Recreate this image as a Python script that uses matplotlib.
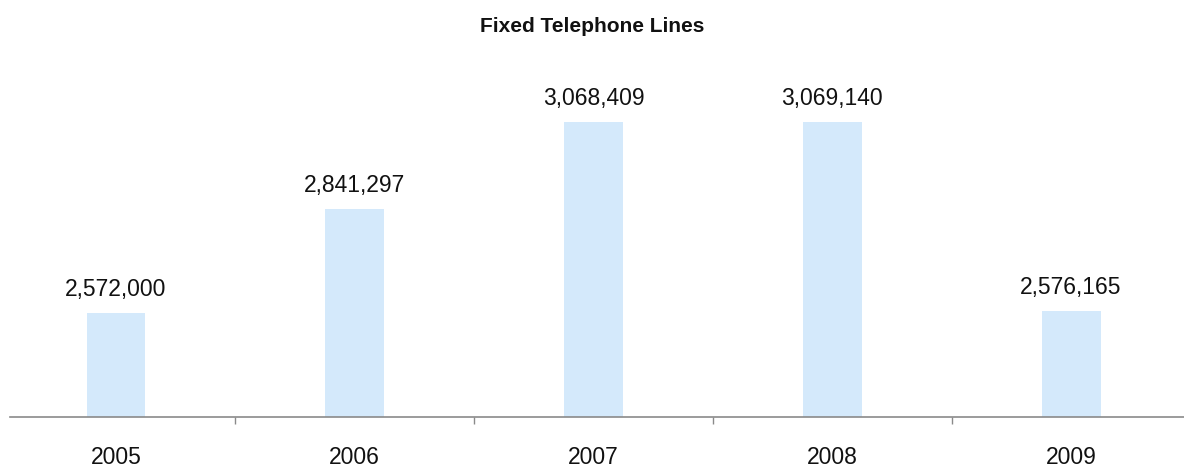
import matplotlib
matplotlib.use("Agg")
import matplotlib.pyplot as plt
from matplotlib.ticker import FixedLocator

years = ["2005", "2006", "2007", "2008", "2009"]
lines = [2572000, 2841297, 3068409, 3069140, 2576165]

plt.rcParams['font.family'] = ['Liberation Sans', 'DejaVu Sans']

fig = plt.figure(figsize=(11.84, 4.72), dpi=100)
# axes from x=10px to 1184px, y from 100px to 417px (top-down)
ax = fig.add_axes([10 / 1184, (472 - 417) / 472, 1174 / 1184, 317 / 472])

x = list(range(len(years)))
ax.bar(x, lines, width=0.247, color="#d4e9fb", zorder=2)

ax.set_xlim(-0.444, 4.473)
ax.set_ylim(2300000, 3126800)

for xi, v in zip(x, lines):
    ax.annotate(f"{v:,}", (xi, v), xytext=(0, 17), textcoords="offset points",
                ha="center", va="center", fontsize=16.5, color="#111111")

for s in ["top", "right", "left"]:
    ax.spines[s].set_visible(False)
ax.spines["bottom"].set_color("#8a8a8a")
ax.spines["bottom"].set_linewidth(1.2)

ax.set_yticks([])
ax.set_xticks(x)
ax.set_xticklabels(years, fontsize=16.5, color="#111111")
ax.tick_params(axis="x", which="major", length=0, pad=21)
ax.xaxis.set_minor_locator(FixedLocator([0.5, 1.5, 2.5, 3.5]))
ax.tick_params(axis="x", which="minor", length=5, width=1, color="#8a8a8a", direction="out")

fig.text(0.5, 1 - 26 / 472, "Fixed Telephone Lines", ha="center", va="center",
         fontsize=15, fontweight="bold", color="#111111",
         family=["Liberation Sans Narrow", "Liberation Sans", "DejaVu Sans"])

fig.savefig("out.png", dpi=100, facecolor="white")
